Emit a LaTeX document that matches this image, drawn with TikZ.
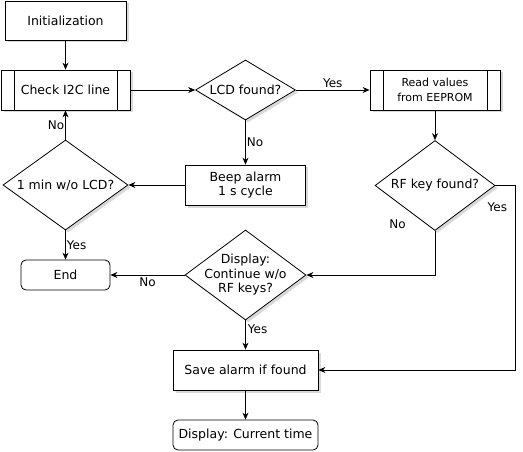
\documentclass[tikz,border=0pt]{standalone}
\usepackage{fontspec}
\setmainfont{DejaVu Sans}
\usetikzlibrary{arrows.meta, shapes.geometric, shadows, calc}
\tikzset{
  flownode/.style={
    draw=black, line width=0.8pt, fill=white, align=center, inner sep=2pt,
    drop shadow={shadow xshift=2.5pt, shadow yshift=-2.5pt, opacity=0.3}
  },
  procbox/.style={flownode, rectangle},
  subproc/.style={procbox,
    path picture={
      \draw[line width=0.8pt] ([xshift=13pt]path picture bounding box.north west) -- ([xshift=13pt]path picture bounding box.south west);
      \draw[line width=0.8pt] ([xshift=-13pt]path picture bounding box.north east) -- ([xshift=-13pt]path picture bounding box.south east);
    }
  },
  decision/.style={flownode, diamond, inner sep=0pt},
  terminal/.style={rectangle, rounded corners=5pt, draw=black, line width=0.8pt, fill=white},
  flowline/.style={-{Stealth[length=7pt, width=6pt]}, line width=0.8pt},
  edgelabel/.style={font=\fontsize{12}{14}\selectfont, inner sep=2pt}
}

\begin{document}
\begin{tikzpicture}[x=1pt, y=-1pt, font=\fontsize{12.5}{14.5}\selectfont]
    \useasboundingbox (0,0) rectangle (523,452);
    % left column
    \node[procbox, minimum width=121pt, minimum height=39pt] (init) at (65.5,20.5) {Initialization};
    \node[subproc, minimum width=129pt, minimum height=40pt] (check) at (65.5,90) {Check I2C line};
    \node[decision, minimum width=125pt, minimum height=90pt, label=center:1 min w/o LCD?] (lcdwait) at (65.5,185) {};
    \node[terminal, minimum width=89pt, minimum height=30pt] (stop) at (65.5,275) {End};
    % middle column
    \node[decision, minimum width=100pt, minimum height=60pt, label=center:LCD found?] (lcd) at (245.5,90) {};
    \node[procbox, minimum width=120pt, minimum height=40pt] (beep) at (245.5,185) {Beep alarm\\1 s cycle};
    \node[decision, minimum width=121pt, minimum height=90pt,
      label={[align=center]center:{Display:\\Continue w/o\\RF keys?}}] (norf) at (245.5,275) {};
    \node[procbox, minimum width=145pt, minimum height=40pt] (save) at (245.5,370) {Save alarm if found};
    \node[terminal, minimum width=145pt, minimum height=30pt] (time) at (245.5,435) {Display: Current time};
    % right column
    \node[subproc, minimum width=130pt, minimum height=40pt, font=\fontsize{11}{15}\selectfont] (read) at (435,90) {Read values\\from EEPROM};
    \node[decision, minimum width=120pt, minimum height=90pt, label=center:RF key found?] (rf) at (435,185.5) {};

    \draw[flowline] (init) -- (check);
    \draw[flowline] (check) -- (lcd);
    \draw[flowline] (lcd) -- node[edgelabel, above] {Yes} (read);
    \draw[flowline] (lcd) -- node[edgelabel, right, inner sep=1pt] {No} (beep);
    \draw[flowline] (beep) -- (lcdwait);
    \draw[flowline] (lcdwait) -- node[edgelabel, left, inner sep=1pt] {No} (check);
    \draw[flowline] (lcdwait) -- node[edgelabel, right, inner sep=1pt] {Yes} (stop);
    \draw[flowline] (read) -- (rf);
    \draw[flowline] (rf.south) |- node[edgelabel, pos=0, anchor=south east, xshift=-27pt] {No} (norf.east);
    \draw[flowline] (rf.east) -- ++(20,0) node[edgelabel, anchor=north east, xshift=-6pt, yshift=-15pt] {Yes} |- (save.east);
    \draw[flowline] (norf) -- node[edgelabel, below] {No} (stop);
    \draw[flowline] (norf) -- node[edgelabel, right, pos=0.3] {Yes} (save);
    \draw[flowline] (save) -- (time);
\end{tikzpicture}
\end{document}
